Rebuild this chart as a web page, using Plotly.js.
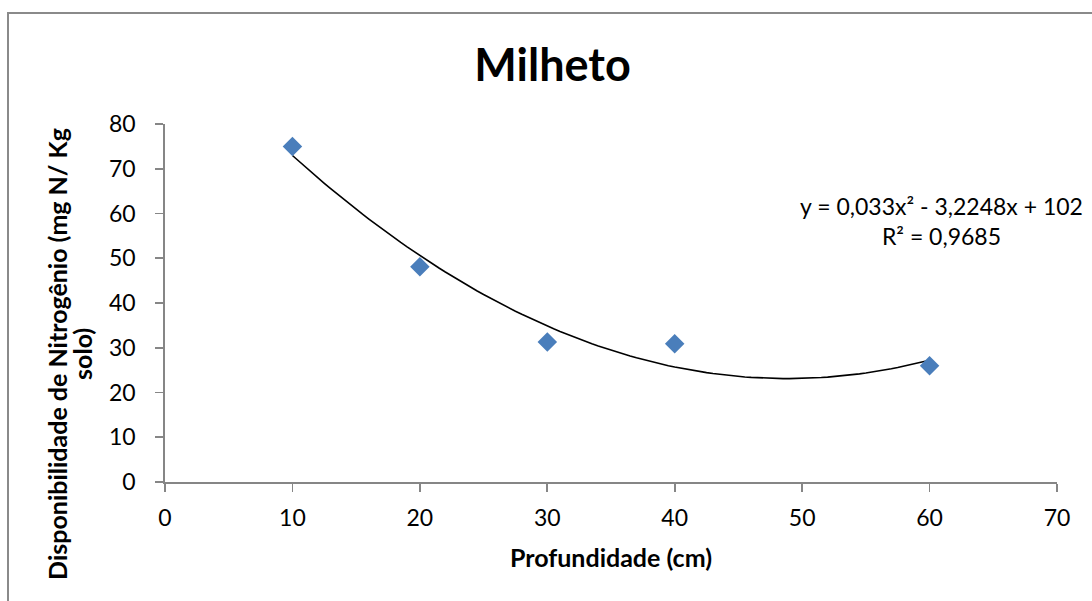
<!DOCTYPE html>
<html><head><meta charset="utf-8">
<script src="https://cdn.plot.ly/plotly-3.0.1.min.js"></script>
<style>
html,body{margin:0;padding:0;overflow:hidden;background:#fff;}
#frame{position:absolute;left:7px;top:12px;width:1200px;height:700px;border:2px solid #8a8a8a;pointer-events:none;z-index:5;}
#chart{position:absolute;left:0;top:0;width:1092px;height:601px;}
</style></head>
<body>
<div id="chart"></div>
<div id="frame"></div>
<script>
const depth = [10, 20, 30, 40, 60];
const nitrogen = [75.0, 48.1, 31.3, 30.9, 26.0];
const xTicks = [0, 10, 20, 30, 40, 50, 60, 70];
const yTicks = [0, 10, 20, 30, 40, 50, 60, 70, 80];
const chartTitle = "Milheto";
const xTitle = "Profundidade (cm)";
const yTitleLines = ["Disponibilidade de Nitrogênio (mg N/ Kg", "solo)"];
const eqText = "y = 0,033x² - 3,2248x + 102<br>R² = 0,9685";

// least-squares quadratic fit of the data (Excel polynomial trendline)
function quadFit(xs, ys){
  let S=[0,0,0,0,0], T=[0,0,0];
  for(let i=0;i<xs.length;i++){
    let p=1;
    for(let k=0;k<5;k++){S[k]+=p; if(k<3)T[k]+=p*ys[i]; p*=xs[i];}
  }
  const A=[[S[0],S[1],S[2],T[0]],[S[1],S[2],S[3],T[1]],[S[2],S[3],S[4],T[2]]];
  for(let c=0;c<3;c++){
    for(let r=c+1;r<3;r++){const f=A[r][c]/A[c][c]; for(let k=c;k<4;k++)A[r][k]-=f*A[c][k];}
  }
  const sol=[0,0,0];
  for(let r=2;r>=0;r--){let s=A[r][3]; for(let k=r+1;k<3;k++)s-=A[r][k]*sol[k]; sol[r]=s/A[r][r];}
  return sol; // c0,c1,c2
}
const coef = quadFit(depth, nitrogen);
const xmin = Math.min(...depth), xmax = Math.max(...depth);
const fx=[], fy=[];
for(let i=0;i<=100;i++){const x=xmin+(xmax-xmin)*i/100; fx.push(x); fy.push(coef[0]+coef[1]*x+coef[2]*x*x);}

const FONT = "Lato, 'Open Sans', sans-serif";
const axisColor = "#868686";

const data = [
  {x: fx, y: fy, mode: "lines", type: "scatter", line: {color: "#000", width: 1.6}, hoverinfo: "skip", showlegend: false},
  {x: depth, y: nitrogen, mode: "markers", type: "scatter", marker: {symbol: "diamond", size: 15, color: "#4a7ebb"}, showlegend: false}
];

const layout = {
  width: 1092, height: 601,
  margin: {l: 165, r: 35, t: 124, b: 119},
  paper_bgcolor: "#fff", plot_bgcolor: "#fff",
  font: {family: FONT, color: "#000"},
  title: {text: chartTitle, font: {family: FONT, size: 45, color: "#000", weight: "bold"}, x: 0.506, xanchor: "center", y: 0.892, yanchor: "middle", xref: "container", yref: "container"},
  xaxis: {
    range: [0, 70], tickvals: xTicks, ticktext: xTicks.map(String),
    showgrid: false, zeroline: false, showline: true, linecolor: axisColor, linewidth: 1.8,
    ticks: "outside", ticklen: 8, tickwidth: 1.8, tickcolor: axisColor,
    tickfont: {size: 23, family: FONT}, ticklabelstandoff: 7
  },
  yaxis: {
    range: [0, 80], tickvals: yTicks, ticktext: yTicks.map(String),
    showgrid: false, zeroline: false, showline: true, linecolor: axisColor, linewidth: 1.8,
    ticks: "outside", ticklen: 8, tickwidth: 1.8, tickcolor: axisColor,
    tickfont: {size: 23, family: FONT}, ticklabelstandoff: 15
  },
  annotations: [
    {text: xTitle, xref: "paper", yref: "paper", x: 0.5, y: -0.2085, xanchor: "center", yanchor: "middle", showarrow: false, font: {size: 25, family: FONT, weight: "bold"}},
    {text: yTitleLines[0], xref: "paper", yref: "paper", x: -0.121, y: 0.358, xanchor: "center", yanchor: "middle", textangle: -90, showarrow: false, font: {size: 25, family: FONT, weight: "bold"}},
    {text: yTitleLines[1], xref: "paper", yref: "paper", x: -0.093, y: 0.358, xanchor: "center", yanchor: "middle", textangle: -90, showarrow: false, font: {size: 25, family: FONT, weight: "bold"}},
    {text: eqText, xref: "paper", yref: "paper", x: 0.87, y: 0.729, xanchor: "center", yanchor: "middle", showarrow: false, font: {size: 23, family: FONT}, align: "center"}
  ]
};
Plotly.newPlot("chart", data, layout, {displayModeBar: false, staticPlot: true});
</script>
</body></html>
